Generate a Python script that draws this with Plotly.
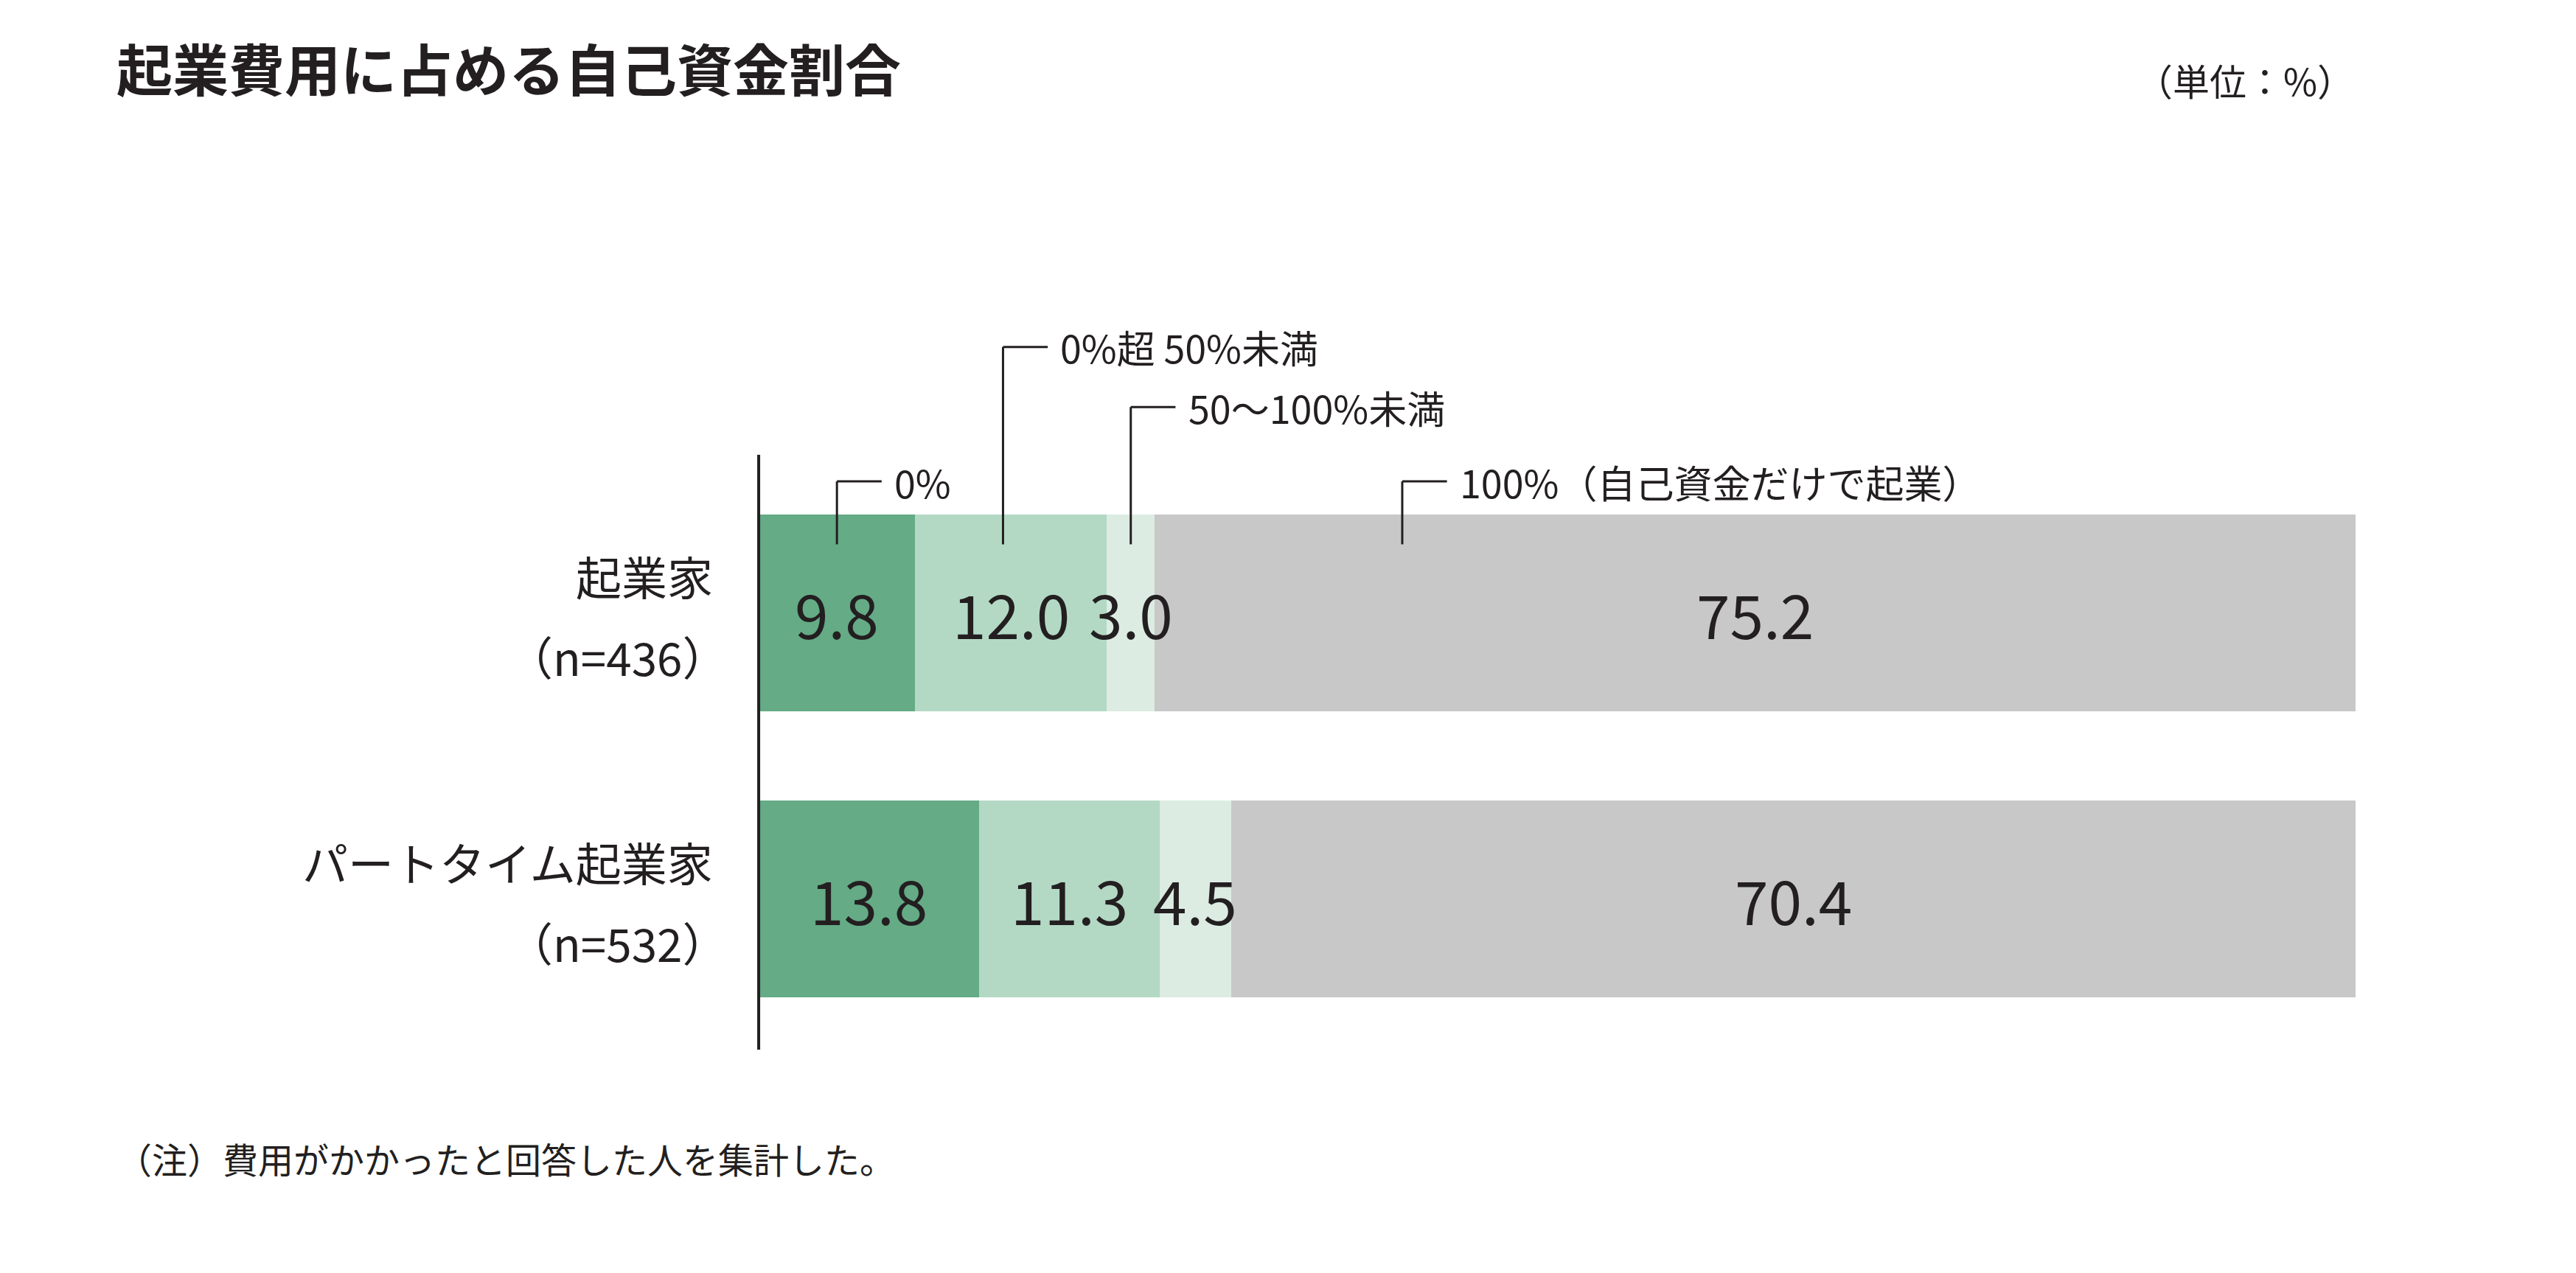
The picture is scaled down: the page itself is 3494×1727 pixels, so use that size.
import plotly.graph_objects as go

# データ
groups      = ["起業家", "パートタイム起業家"]
group_n     = ["（n=436）", "（n=532）"]
categories  = ["0%", "0%超 50%未満", "50～100%未満", "100%（自己資金だけで起業）"]
values      = [
    [9.8, 13.8],
    [12.0, 11.3],
    [3.0, 4.5],
    [75.2, 70.4],
]
colors      = ["#64ab86", "#b3d9c5", "#dcece3", "#c8c8c8"]

FONT  = "Noto Sans CJK JP"
INK   = "#231f20"
W, H  = 3494, 1727
ROW_Y = [1, 0]

# 軸範囲は図全体を覆う（0–100% が横 1021–3187px に来るように）
X_RANGE = [-47.14, 114.17]
Y_RANGE = [-1.329, 3.123]

fig = go.Figure()
for cat, vals, col in zip(categories, values, colors):
    fig.add_trace(go.Bar(
        x=vals, y=ROW_Y, orientation="h", name=cat,
        marker=dict(color=col, line_width=0), width=0.69,
        hoverinfo="skip",
    ))

# 値ラベル（セグメント中央）
for r, y in enumerate(ROW_Y):
    left = 0
    for c, vals in enumerate(values):
        v = vals[r]
        fig.add_annotation(x=left + v / 2, y=y, text=f"{v:.1f}", showarrow=False,
                           font=dict(family=FONT, size=82, color=INK))
        left += v

# 系列名（左側）
for g, n, y in zip(groups, group_n, ROW_Y):
    fig.add_annotation(x=0, y=y + 0.13, text=g, showarrow=False,
                       xanchor="right", xshift=-60, font=dict(family=FONT, size=62, color=INK))
    fig.add_annotation(x=0, y=y - 0.15, text=n, showarrow=False,
                       xanchor="right", xshift=-40, font=dict(family=FONT, size=62, color=INK))

# 引き出し線（上段のセグメントから）
callout_top = [1.46, 1.93, 1.72, 1.46]
left = 0
for c, cat in enumerate(categories):
    v = values[c][0]
    cx = left + v / 2
    if c == 1:
        cx -= 0.5
    if c == 3:
        cx = 40.3
    left += v
    ty = callout_top[c]
    fig.add_shape(type="line", x0=cx, x1=cx, y0=1.24, y1=ty,
                  line=dict(color=INK, width=3))
    fig.add_shape(type="line", x0=cx, x1=cx + 2.8, y0=ty, y1=ty,
                  line=dict(color=INK, width=3))
    fig.add_annotation(x=cx + 3.5, y=ty, text=cat, showarrow=False, xanchor="left",
                       font=dict(family=FONT, size=52, color=INK))

# 縦軸線
fig.add_shape(type="line", x0=0, x1=0, y0=-0.527, y1=1.553, line=dict(color=INK, width=4))

fig.add_annotation(x=0.0424, y=0.952, xref="paper", yref="paper", text="<b>起業費用に占める自己資金割合</b>",
                   showarrow=False, xanchor="left", yanchor="middle",
                   font=dict(family=FONT, size=76, color=INK))
fig.add_annotation(x=0.912, y=0.942, xref="paper", yref="paper", text="（単位：%）",
                   showarrow=False, xanchor="right", yanchor="middle",
                   font=dict(family=FONT, size=50, color=INK))
fig.add_annotation(x=0.0424, y=0.095, xref="paper", yref="paper",
                   text="（注）費用がかかったと回答した人を集計した。",
                   showarrow=False, xanchor="left", yanchor="middle",
                   font=dict(family=FONT, size=48, color=INK))

fig.update_layout(
    width=W, height=H,
    barmode="stack", showlegend=False,
    paper_bgcolor="white", plot_bgcolor="white",
    margin=dict(l=0, r=0, t=0, b=0),
    xaxis=dict(range=X_RANGE, visible=False, fixedrange=True),
    yaxis=dict(range=Y_RANGE, visible=False, fixedrange=True),
)

fig.write_html("out.html")
